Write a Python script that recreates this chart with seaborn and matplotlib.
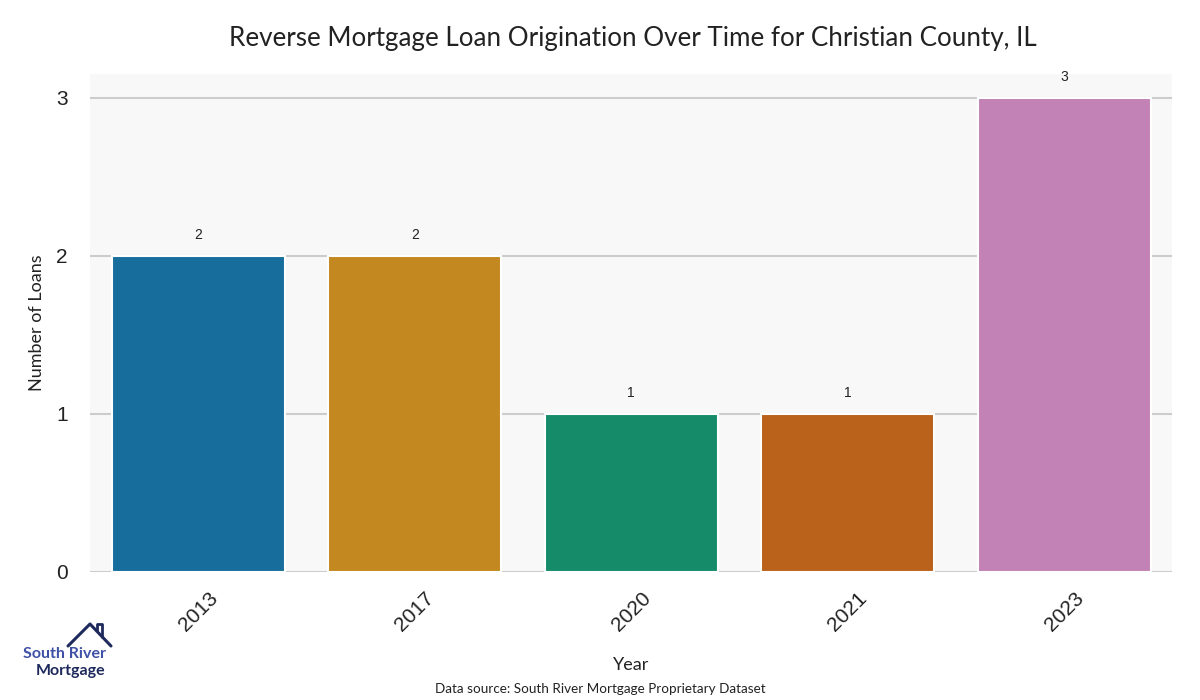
import matplotlib
matplotlib.use("Agg")
import matplotlib.pyplot as plt
from matplotlib.lines import Line2D
import seaborn as sns
import pandas as pd

# data
years = ["2013", "2017", "2020", "2021", "2023"]
loans = [2, 2, 1, 1, 3]

df = pd.DataFrame({"Year": years, "Loans": loans})

sns.set_theme(style="whitegrid")
plt.rcParams['font.family'] = ['Lato', 'DejaVu Sans']

fig = plt.figure(figsize=(12, 7), dpi=100)
ax = fig.add_axes([0.075, 0.183, 0.902, 0.711])
ax.set_facecolor("#f8f8f8")

sns.barplot(data=df, x="Year", y="Loans", hue="Year", palette="colorblind",
            legend=False, edgecolor="white", linewidth=1.5, ax=ax)

for i, v in enumerate(loans):
    ax.annotate(str(v), (i, v), xytext=(0, 10), textcoords="offset points",
                ha="center", va="bottom", fontsize=10, color="#222222",
                family=['Liberation Sans', 'DejaVu Sans'])

ax.set_ylim(0, 3.15)
ax.set_yticks([0, 1, 2, 3])
ax.grid(axis="y", color="#cccccc", linewidth=1.5)
ax.grid(axis="x", visible=False)
ax.set_axisbelow(True)
for s in ax.spines.values():
    s.set_visible(False)

ax.tick_params(axis="y", labelsize=15, pad=10)
ax.tick_params(axis="x", labelsize=15, rotation=45, pad=6)
for lbl in ax.get_xticklabels() + ax.get_yticklabels():
    lbl.set_family(['Liberation Sans', 'DejaVu Sans'])
    lbl.set_color("#222222")
for lbl in ax.get_xticklabels():
    lbl.set_ha("center")

ax.set_xlabel("Year", fontsize=13, color="#222222", labelpad=16)
ax.set_ylabel("Number of Loans", fontsize=13, color="#222222", labelpad=8)

fig.text(0.527, 0.945, "Reverse Mortgage Loan Origination Over Time for Christian County, IL",
         ha="center", va="center", fontsize=18.7, color="#222222")
fig.text(0.5, 0.016, "Data source: South River Mortgage Proprietary Dataset",
         ha="center", va="center", fontsize=9.7, color="#222222")

# logo
fig.text(0.019, 0.066, "South River", fontsize=11.5, color="#3f51a6", weight="bold",
         ha="left", va="center")
fig.text(0.030, 0.042, "Mortgage", fontsize=11.5, color="#1f2a5c", weight="bold",
         ha="left", va="center")
hx = [68 / 1200, 90 / 1200, 111 / 1200]
hy = [1 - 646 / 700, 1 - 624 / 700, 1 - 646 / 700]
fig.add_artist(Line2D(hx, hy, color="#1f2a5c", linewidth=2.2, transform=fig.transFigure))
fig.add_artist(Line2D([97 / 1200, 97 / 1200, 102 / 1200, 102 / 1200],
                      [1 - 630 / 700, 1 - 624 / 700, 1 - 624 / 700, 1 - 637 / 700],
                      color="#1f2a5c", linewidth=2.0, transform=fig.transFigure))

fig.savefig("out.png", dpi=100)
